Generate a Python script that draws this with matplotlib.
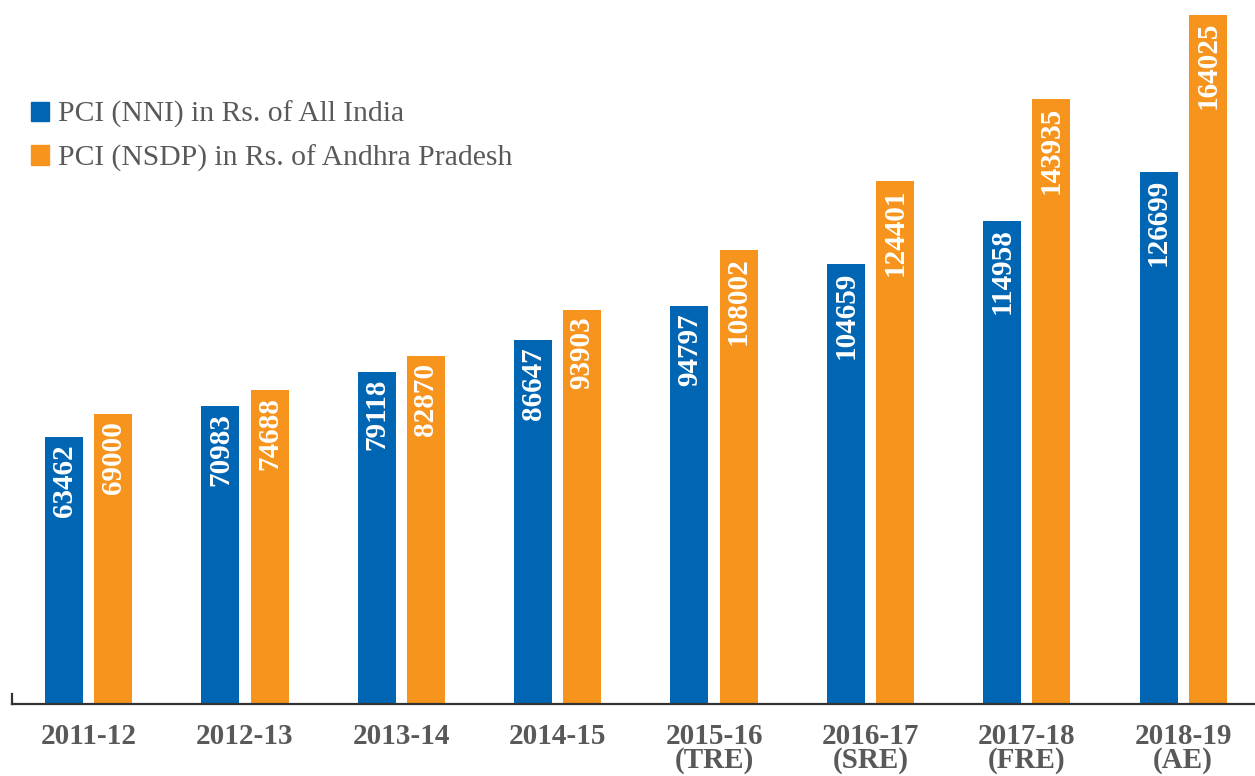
import numpy as np
import matplotlib
matplotlib.use("Agg")
import matplotlib.pyplot as plt
from matplotlib.patches import Patch

# Per capita income data
years = ["2011-12", "2012-13", "2013-14", "2014-15",
         "2015-16\n(TRE)", "2016-17\n(SRE)", "2017-18\n(FRE)", "2018-19\n(AE)"]
india = [63462, 70983, 79118, 86647, 94797, 104659, 114958, 126699]
andhra = [69000, 74688, 82870, 93903, 108002, 124401, 143935, 164025]
series_names = ["PCI (NNI) in Rs. of All India",
                "PCI (NSDP) in Rs. of Andhra Pradesh"]

blue = "#0066b3"
orange = "#f7941d"
grey = "#595959"
serif = "Liberation Serif"

fig = plt.figure(figsize=(12.55, 7.76), dpi=100)
ax = fig.add_axes([12 / 1255, 72 / 776, 1 - 12 / 1255, 704 / 776])

x = np.arange(len(years))
w = 0.243
off = 0.157
b1 = ax.bar(x - off, india, w, color=blue)
b2 = ax.bar(x + off, andhra, w, color=orange)

# value labels inside the bars
for bars, vals in [(b1, india), (b2, andhra)]:
    for rect, v in zip(bars, vals):
        ax.annotate(str(v), (rect.get_x() + rect.get_width() / 2, v),
                    xytext=(0, -5), textcoords="offset points",
                    rotation=90, ha="center", va="top", color="white",
                    fontsize=21, fontweight="bold", family=serif)

ax.set_xlim(-0.49, 7.46)
ax.set_ylim(0, 167600)

for s in ["top", "right"]:
    ax.spines[s].set_visible(False)
ax.spines["bottom"].set_color("#333333")
ax.spines["bottom"].set_linewidth(1.6)
ax.spines["left"].set_color("#333333")
ax.spines["left"].set_linewidth(1.6)
ax.spines["left"].set_bounds(0, 2400)

ax.set_yticks([])
ax.set_xticks(x)
ax.set_xticklabels(years, fontsize=21, fontweight="bold", family=serif,
                   color=grey, linespacing=0.82)
ax.tick_params(axis="x", length=0, pad=14)

handles = [Patch(color=blue), Patch(color=orange)]
leg = ax.legend(handles, series_names, loc="upper left",
                bbox_to_anchor=(19 / 1255, 1 - 89 / 776),
                bbox_transform=fig.transFigure, frameon=False,
                handlelength=0.62, handleheight=0.62, handletextpad=0.3,
                labelspacing=0.55, borderaxespad=0,
                prop={"family": serif, "size": 21.3}, labelcolor=grey)

fig.savefig("out.png", dpi=100)
